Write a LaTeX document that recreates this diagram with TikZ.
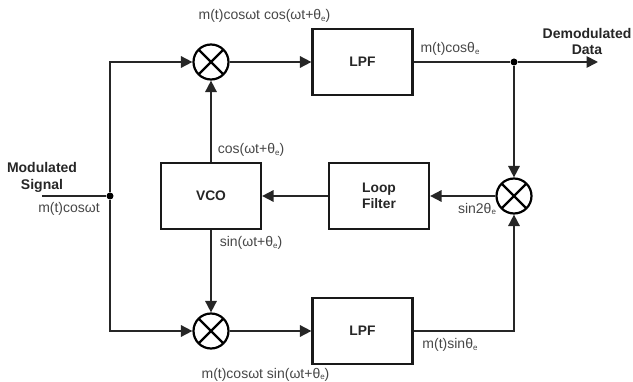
\documentclass[tikz,border=0pt]{standalone}
\usepackage{fontspec}
\setmainfont{Liberation Sans}
\usetikzlibrary{arrows.meta}
\newcommand{\thE}{θ\raisebox{-0.2ex}{\fontsize{8}{8}\selectfont e}}
\tikzset{
  x=1pt,y=-1pt,
  block/.style={draw=black!90,line width=2.2pt,fill=white,inner sep=0pt,font=\fontsize{13.8}{16}\selectfont\bfseries,align=center,text=black!85},
  mixer/.style={circle,draw=black,line width=2.2pt,minimum size=35pt,inner sep=0pt,fill=white,
    path picture={\draw[line width=2.2pt] (path picture bounding box.north west)--(path picture bounding box.south east)
      (path picture bounding box.north east)--(path picture bounding box.south west);}},
  dotj/.style={circle,fill=black,minimum size=7pt,inner sep=0pt},
  wire/.style={draw=black!85,line width=1.7pt},
  arrow/.style={wire,-{Triangle[length=11.5pt,width=11.5pt]}},
  lab/.style={font=\fontsize{14}{16}\selectfont,text=black!72,inner sep=0pt},
  head/.style={font=\fontsize{14}{16.5}\selectfont\bfseries,text=black!85,inner sep=0pt,align=center}
}
\begin{document}
\begin{tikzpicture}
\useasboundingbox (0,0) rectangle (633,382);
\node[block,minimum width=100pt,minimum height=66pt] (lpf1) at (362.5,62) {LPF};
\node[block,minimum width=100pt,minimum height=66pt] (lpf2) at (362.5,331) {LPF};
\node[block,minimum width=100pt,minimum height=66pt] (vco) at (211,196) {VCO};
\node[block,minimum width=100pt,minimum height=66pt] (loop) at (379,196) {Loop\\Filter};
\node[mixer] (m1) at (211,62) {};
\node[mixer] (m2) at (211,331) {};
\node[mixer] (m3) at (514,196) {};
\node[dotj] (jl) at (110,196) {};
\node[dotj] (jr) at (514,62) {};
\coordinate (in) at (42,196);
\coordinate (out) at (598,62);
\draw[wire] (in) -- (jl);
\draw[arrow] (jl) |- (m1);
\draw[arrow] (jl) |- (m2);
\draw[arrow] (m1) -- (lpf1);
\draw[arrow] (m2) -- (lpf2);
\draw[wire] (lpf1) -- (jr);
\draw[arrow] (jr) -- (out);
\draw[arrow] (jr) -- (m3);
\draw[arrow] (m3) -- (loop);
\draw[arrow] (loop) -- (vco);
\draw[arrow] (vco) -- (m1);
\draw[arrow] (vco) -- (m2);
\draw[arrow] (lpf2) -| (m3);
\node[head] (t1) at (42,177.5) {Modulated\\Signal};
\node[head] (t2) at (587,41.5) {Demodulated\\Data};
\node[lab] (l1) at (69,209) {m(t)cosωt};
\node[lab] (l2) at (264.5,16) {m(t)cosωt cos(ωt+\thE)};
\node[lab] (l3) at (265.5,374.5) {m(t)cosωt sin(ωt+\thE)};
\node[lab] (l4) at (251,150) {cos(ωt+\thE)};
\node[lab] (l5) at (251,243) {sin(ωt+\thE)};
\node[lab] (l6) at (450,49) {m(t)cos\thE};
\node[lab] (l7) at (450,345) {m(t)sin\thE};
\node[lab] (l8) at (477,209) {sin2\thE};
\end{tikzpicture}
\end{document}
